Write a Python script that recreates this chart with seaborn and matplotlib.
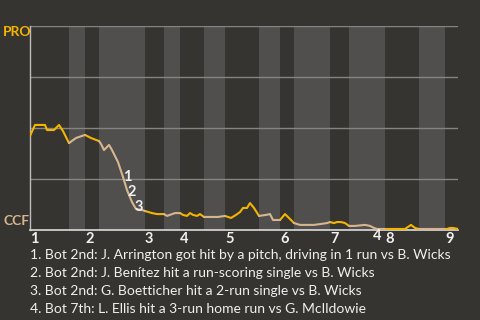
import numpy as np
import pandas as pd
import matplotlib
matplotlib.use("Agg")
import matplotlib.pyplot as plt
import seaborn as sns

# ---- data ----
play_x = [0, 5, 15, 17, 24, 29, 33, 39, 46, 55, 61, 69, 71, 74, 79, 82, 88, 93, 97, 102,
          106, 112, 115, 122, 127, 130, 134, 137, 145, 150, 153, 157, 160, 163, 167, 170,
          174, 182, 188, 195, 201, 206, 210, 213, 217, 220, 224, 229, 236, 240, 243, 250,
          255, 260, 264, 270, 284, 290, 297, 300, 304, 307, 311, 315, 319, 325, 335, 340,
          344, 347, 355, 375, 381, 385, 389, 415, 417, 420, 423, 428]
pro_wp = [46.1, 51.5, 51.5, 49.0, 49.0, 51.5, 48.5, 42.6, 45.1, 46.6, 45.1, 43.6, 42.2,
          39.2, 41.7, 39.2, 33.3, 26.0, 19.6, 13.7, 10.3, 9.8, 9.3, 8.3, 7.8, 7.8, 7.8,
          6.9, 8.3, 8.3, 7.4, 6.9, 8.3, 7.4, 6.9, 7.8, 6.4, 6.4, 6.4, 6.9, 5.9, 7.4, 8.8,
          10.8, 10.8, 13.2, 10.8, 6.9, 7.4, 7.8, 4.9, 4.9, 7.8, 5.4, 3.4, 2.5, 2.5, 2.9,
          3.4, 3.9, 3.4, 3.9, 3.9, 3.4, 2.0, 2.0, 2.5, 2.0, 1.0, 0.5, 0.5, 0.5, 2.5, 1.0,
          0.5, 0.5, 0.5, 1.0, 1.0, 0.5]
half_starts = [0, 39, 55, 69, 115, 134, 150, 174, 195, 229, 250, 264, 300, 319, 355, 389, 415]
x_end = 428
inning_labels = ["1", "2", "3", "4", "5", "6", "7", "8", "9"]
event_x = [93, 98, 105, 344]
event_labels = ["1", "2", "3", "4"]
notes = [
    "1. Bot 2nd: J. Arrington got hit by a pitch, driving in 1 run vs B. Wicks",
    "2. Bot 2nd: J. Benítez hit a run-scoring single vs B. Wicks",
    "3. Bot 2nd: G. Boetticher hit a 2-run single vs B. Wicks",
    "4. Bot 7th: L. Ellis hit a 3-run home run vs G. McIldowie",
]
team_top = "PRO"
team_bottom = "CCF"

# ---- style ----
BG = "#363430"
BAND = "#504f4d"
GRID = "#858481"
PRO_C = "#f5b400"
CCF_C = "#d6b68e"
TXT = "#f0f0f0"
FONT = ["Lato", "DejaVu Sans"]

sns.set_style("dark")
plt.rcParams["font.family"] = FONT

fig = plt.figure(figsize=(4.8, 3.2), dpi=100, facecolor=BG)
ax = fig.add_axes([30 / 480, 1 - 230 / 320, 428 / 480, 204 / 320])
ax.set_facecolor(BG)

bounds = half_starts + [x_end]
for k in range(len(half_starts)):
    if k % 2 == 1:
        ax.axvspan(bounds[k], bounds[k + 1], color=BAND, lw=0, zorder=0)

xs = np.array(play_x, float)
ys = np.array(pro_wp, float)
rows = []
for k in range(len(half_starts)):
    lo, hi = bounds[k], bounds[k + 1]
    m = (xs >= lo) & (xs <= hi)
    for xv, yv in zip(xs[m], ys[m]):
        rows.append({"x": xv, "wp": yv, "half": k, "side": "top" if k % 2 == 0 else "bot"})
df = pd.DataFrame(rows)

for y in [25, 50, 75, 100]:
    ax.axhline(y, color=GRID, lw=1, zorder=1)

sns.lineplot(data=df, x="x", y="wp", hue="side", units="half", estimator=None,
             palette={"top": PRO_C, "bot": CCF_C}, lw=1.5, legend=False, ax=ax, zorder=3)

ax.set_xlim(0, x_end)
ax.set_ylim(0, 100)
ax.set_xlabel("")
ax.set_ylabel("")
ax.set_yticks([])
for s in ["top", "right"]:
    ax.spines[s].set_visible(False)
ax.spines["left"].set_color("#bdbdbb")
ax.spines["left"].set_visible(True)
ax.spines["bottom"].set_color("#dcdcdc")
ax.spines["bottom"].set_visible(True)
ax.spines["left"].set_linewidth(1)
ax.spines["bottom"].set_linewidth(1.2)
ax.grid(False)

inning_starts = half_starts[0::2]
ax.set_xticks(inning_starts)
ax.set_xticklabels(inning_labels, color=TXT, fontsize=10.5, fontweight="bold")
ax.tick_params(axis="x", length=0, pad=1.5)
for lab in ax.get_xticklabels():
    lab.set_horizontalalignment("left")

for ex, el in zip(event_x, event_labels):
    ey = float(np.interp(ex, xs, ys))
    if ey < 3:
        ax.annotate(el, (ex, 0), xytext=(2.5, -4), textcoords="offset points",
                    color=TXT, fontsize=10.5, fontweight="bold", ha="center", va="center",
                    annotation_clip=False, zorder=5)
    else:
        ax.annotate(el, (ex, ey), xytext=(3, 0), textcoords="offset points",
                    color=TXT, fontsize=10.5, fontweight="bold", ha="center", va="center",
                    zorder=5)

fig.text(3 / 480, 1 - 32 / 320, team_top, color=PRO_C, fontsize=10, fontweight="bold",
         ha="left", va="center")
fig.text(3 / 480, 1 - 221 / 320, team_bottom, color=CCF_C, fontsize=10, fontweight="bold",
         ha="left", va="center")

for i, n in enumerate(notes):
    fig.text(30 / 480, 1 - (255 + 18 * i) / 320, n, color=TXT, fontsize=10,
             ha="left", va="center")

fig.savefig("out.png", dpi=100, facecolor=BG)
